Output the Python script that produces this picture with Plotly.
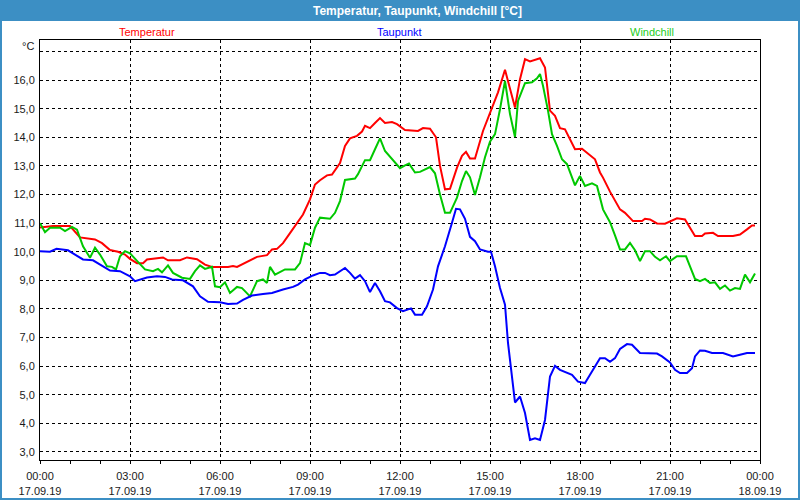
import pandas as pd
import plotly.graph_objects as go

DAY = "2019-09-17"

# Temperatur (minutes after midnight, °C)
temp_min = [0, 26, 60, 80, 110, 124, 140, 156, 170, 180, 194, 206, 214, 240, 246, 256, 280, 294, 314, 330,
            344, 376, 386, 394, 414, 434, 454, 464, 474, 486, 500, 514, 526, 540, 550, 560, 574, 584, 600, 610,
            620, 634, 644, 650, 660, 670, 680, 690, 704, 714, 730, 756, 766, 780, 792, 800, 810, 820, 834, 844,
            852, 860, 870, 886, 904, 916, 930, 940, 950, 960, 970, 980, 990, 1000, 1010, 1020, 1030, 1040, 1050,
            1060, 1070, 1084, 1094, 1110, 1120, 1126, 1140, 1160, 1170, 1186, 1204, 1210, 1220, 1234, 1250, 1264,
            1274, 1290, 1300, 1310, 1324, 1330, 1346, 1356, 1386, 1400, 1414, 1424, 1430]
temp_val = [10.85, 10.9, 10.9, 10.5, 10.43, 10.3, 10.06, 10.0, 9.9, 9.75, 9.6, 9.6, 9.73, 9.77, 9.8, 9.7, 9.7,
            9.8, 9.74, 9.55, 9.47, 9.47, 9.5, 9.47, 9.64, 9.82, 9.88, 10.08, 10.1, 10.3, 10.65, 11.0, 11.3, 11.83,
            12.35, 12.5, 12.67, 12.7, 13.1, 13.7, 13.96, 14.05, 14.2, 14.4, 14.32, 14.5, 14.67, 14.5, 14.53, 14.46,
            14.25, 14.22, 14.32, 14.3, 14.0, 13.0, 12.18, 12.2, 12.94, 13.35, 13.49, 13.26, 13.26, 14.22, 15.04,
            15.57, 16.36, 15.68, 15.04, 16.03, 16.73, 16.65, 16.71, 16.76, 16.44, 14.93, 14.75, 14.32, 14.28, 13.93,
            13.58, 13.6, 13.47, 13.23, 12.77, 12.59, 12.1, 11.48, 11.36, 11.07, 11.07, 11.15, 11.13, 10.99, 10.98,
            11.1, 11.17, 11.13, 10.84, 10.55, 10.55, 10.64, 10.66, 10.55, 10.55, 10.6, 10.78, 10.92, 10.92]

# Taupunkt
dew_min = [0, 20, 33, 56, 66, 80, 86, 106, 120, 140, 160, 180, 190, 200, 214, 234, 250, 264, 286, 306, 320, 336,
           360, 376, 394, 406, 424, 446, 464, 486, 506, 516, 530, 546, 560, 570, 580, 590, 600, 610, 620, 630, 640,
           650, 660, 670, 680, 690, 700, 714, 726, 736, 742, 750, 764, 774, 786, 796, 810, 824, 832, 840, 850, 860,
           870, 880, 896, 902, 910, 920, 930, 936, 944, 950, 960, 970, 980, 990, 1000, 1010, 1020, 1030, 1040, 1054,
           1064, 1076, 1090, 1100, 1110, 1120, 1130, 1140, 1150, 1160, 1174, 1184, 1200, 1234, 1244, 1260, 1270,
           1280, 1294, 1304, 1310, 1320, 1330, 1344, 1366, 1386, 1400, 1414, 1430]
dew_val = [10.02, 10.0, 10.1, 10.05, 9.94, 9.79, 9.73, 9.7, 9.55, 9.34, 9.32, 9.14, 8.97, 9.03, 9.1, 9.14, 9.12,
           9.03, 9.0, 8.79, 8.44, 8.25, 8.23, 8.17, 8.19, 8.32, 8.47, 8.52, 8.56, 8.68, 8.77, 8.85, 9.03, 9.17,
           9.26, 9.26, 9.18, 9.2, 9.32, 9.43, 9.26, 9.06, 9.18, 8.97, 8.59, 8.91, 8.62, 8.27, 8.23, 8.03, 7.92,
           7.98, 8.02, 7.8, 7.8, 8.09, 8.68, 9.49, 10.19, 11.01, 11.5, 11.48, 11.15, 10.52, 10.37, 10.08, 10.0,
           10.0, 9.49, 8.73, 8.15, 6.81, 5.64, 4.73, 4.94, 4.36, 3.42, 3.48, 3.42, 4.12, 5.64, 6.01, 5.87, 5.76,
           5.7, 5.46, 5.41, 5.7, 5.99, 6.28, 6.28, 6.15, 6.28, 6.6, 6.77, 6.75, 6.46, 6.44, 6.34, 6.13, 5.87, 5.76,
           5.76, 5.93, 6.34, 6.55, 6.54, 6.46, 6.46, 6.34, 6.4, 6.46, 6.46]

# Windchill
wc_min = [0, 10, 20, 40, 50, 64, 74, 86, 100, 110, 120, 134, 144, 152, 160, 170, 180, 194, 210, 226, 236, 244,
          256, 266, 284, 300, 310, 320, 330, 344, 350, 360, 370, 380, 394, 404, 420, 434, 446, 454, 460, 470, 490,
          510, 520, 530, 540, 550, 560, 580, 590, 600, 610, 630, 636, 650, 660, 670, 680, 690, 700, 710, 720, 730,
          738, 750, 760, 780, 790, 800, 810, 820, 834, 844, 852, 860, 870, 880, 890, 900, 910, 920, 930, 940, 950,
          956, 964, 970, 984, 994, 1000, 1006, 1016, 1024, 1034, 1044, 1054, 1070, 1080, 1090, 1104, 1114, 1126,
          1140, 1150, 1160, 1170, 1180, 1190, 1200, 1210, 1220, 1230, 1240, 1252, 1260, 1274, 1292, 1300, 1310,
          1320, 1330, 1340, 1350, 1360, 1370, 1380, 1390, 1400, 1410, 1420, 1430]
wc_val = [11.0, 10.68, 10.84, 10.84, 10.72, 10.87, 10.77, 10.19, 9.79, 10.14, 9.9, 9.49, 9.47, 9.38, 9.84, 10.02,
          9.94, 9.67, 9.38, 9.32, 9.4, 9.28, 9.52, 9.26, 9.09, 9.05, 9.32, 9.52, 9.4, 9.47, 8.79, 8.76, 8.93, 8.56,
          8.77, 8.73, 8.44, 8.97, 9.03, 8.91, 9.47, 9.2, 9.38, 9.38, 9.6, 10.3, 10.23, 10.84, 11.19, 11.15, 11.36,
          11.77, 12.51, 12.56, 12.71, 13.2, 13.2, 13.58, 13.96, 13.52, 13.33, 13.12, 12.92, 13.02, 13.08, 12.77,
          12.79, 12.96, 12.74, 12.0, 11.36, 11.36, 11.89, 12.47, 12.82, 12.6, 11.98, 12.6, 13.3, 13.85, 14.11,
          14.98, 15.97, 14.81, 14.01, 15.27, 15.62, 15.89, 15.92, 16.06, 16.21, 15.8, 14.93, 14.11, 13.7, 13.23,
          13.06, 12.32, 12.65, 12.3, 12.39, 12.3, 11.48, 11.03, 10.57, 10.08, 10.08, 10.31, 10.05, 9.67, 10.02,
          10.02, 9.82, 9.7, 9.84, 9.67, 9.84, 9.84, 9.49, 9.05, 8.97, 9.05, 8.91, 8.93, 8.7, 8.82, 8.64, 8.73,
          8.7, 9.2, 8.93, 9.24]

y_ticks = list(range(3, 18))
y_labels = [f"{v},0" for v in range(3, 17)] + [""]
x_tick_hours = [0, 3, 6, 9, 12, 15, 18, 21, 24]
x_tick_labels = ["00:00<br>17.09.19", "03:00<br>17.09.19", "06:00<br>17.09.19", "09:00<br>17.09.19",
                 "12:00<br>17.09.19", "15:00<br>17.09.19", "18:00<br>17.09.19", "21:00<br>17.09.19",
                 "00:00<br>18.09.19"]

base = pd.Timestamp(DAY)


def to_time(mins):
    return [base + pd.Timedelta(minutes=m) for m in mins]


FONT = "Liberation Sans, Arial, sans-serif"
BLUE_FRAME = "#3c8fc4"

fig = go.Figure()
fig.add_trace(go.Scatter(x=to_time(temp_min), y=temp_val, mode="lines", name="Temperatur",
                         line=dict(color="#ff0000", width=2)))
fig.add_trace(go.Scatter(x=to_time(wc_min), y=wc_val, mode="lines", name="Windchill",
                         line=dict(color="#00c800", width=2)))
fig.add_trace(go.Scatter(x=to_time(dew_min), y=dew_val, mode="lines", name="Taupunkt",
                         line=dict(color="#0000ff", width=2)))

# plot area: x 40..760 px, y 40..460 px
L, R, T, B = 40, 40, 40, 40
W, H = 800, 500
pw, ph = W - L - R, H - T - B


def px(x):
    return (x - L) / pw


def py(y):
    return (H - B - y) / ph


fig.update_layout(
    width=W, height=H,
    margin=dict(l=L, r=R, t=T, b=B),
    paper_bgcolor="white", plot_bgcolor="white",
    showlegend=False,
    font=dict(family=FONT, size=11, color="#1a1a1a"),
    separators=",.",
    xaxis=dict(
        range=[base, base + pd.Timedelta(hours=24)],
        tickvals=[base + pd.Timedelta(hours=h) for h in x_tick_hours],
        ticktext=x_tick_labels,
        ticks="outside", ticklen=3, tickcolor="black", tickwidth=1,
        showgrid=True, gridcolor="black", gridwidth=1, griddash="3px,3px",
        showline=True, linecolor="black", linewidth=1, mirror=True,
        zeroline=False,
        minor=dict(dtick=3600000, ticks="outside", ticklen=3, tickcolor="black", showgrid=False),
        tickfont=dict(family=FONT, size=11, color="#1a1a1a"),
        tickangle=0,
        ticklabelstandoff=3,
        automargin=False,
    ),
    yaxis=dict(
        range=[2.72, 17.4],
        tickvals=y_ticks, ticktext=y_labels,
        ticks="", showgrid=True, gridcolor="black", gridwidth=1, griddash="3px,3px",
        showline=True, linecolor="black", linewidth=1, mirror=True,
        zeroline=False,
        tickfont=dict(family=FONT, size=11, color="#1a1a1a"),
        ticklabelstandoff=2,
        automargin=False,
    ),
    shapes=[
        dict(type="rect", xref="paper", yref="paper", x0=px(0), x1=px(W), y0=py(21), y1=py(0),
             fillcolor=BLUE_FRAME, line=dict(width=0), layer="above"),
        dict(type="rect", xref="paper", yref="paper", x0=px(0), x1=px(2), y0=py(H), y1=py(0),
             fillcolor=BLUE_FRAME, line=dict(width=0), layer="above"),
        dict(type="rect", xref="paper", yref="paper", x0=px(W - 2), x1=px(W), y0=py(H), y1=py(0),
             fillcolor=BLUE_FRAME, line=dict(width=0), layer="above"),
        dict(type="rect", xref="paper", yref="paper", x0=px(0), x1=px(W), y0=py(H), y1=py(H - 2),
             fillcolor=BLUE_FRAME, line=dict(width=0), layer="above"),
    ],
    annotations=[
        dict(text="<b>Temperatur, Taupunkt, Windchill [°C]</b>", xref="paper", yref="paper",
             x=px(417), y=py(10.5), xanchor="center", yanchor="middle", showarrow=False,
             font=dict(family="Liberation Sans Narrow, " + FONT, size=12, color="white")),
        dict(text="Temperatur", xref="paper", yref="paper", x=px(147), y=py(32), xanchor="center",
             yanchor="middle", showarrow=False, font=dict(family=FONT, size=11, color="#ff0000")),
        dict(text="Taupunkt", xref="paper", yref="paper", x=px(399), y=py(32), xanchor="center",
             yanchor="middle", showarrow=False, font=dict(family=FONT, size=11, color="#0000ff")),
        dict(text="Windchill", xref="paper", yref="paper", x=px(652), y=py(32), xanchor="center",
             yanchor="middle", showarrow=False, font=dict(family=FONT, size=11, color="#22cc22")),
        dict(text="°C", xref="paper", yref="paper", x=px(36), y=py(46), xanchor="right",
             yanchor="middle", showarrow=False, font=dict(family=FONT, size=11, color="#1a1a1a")),
    ],
)

fig.write_html("out.html")
